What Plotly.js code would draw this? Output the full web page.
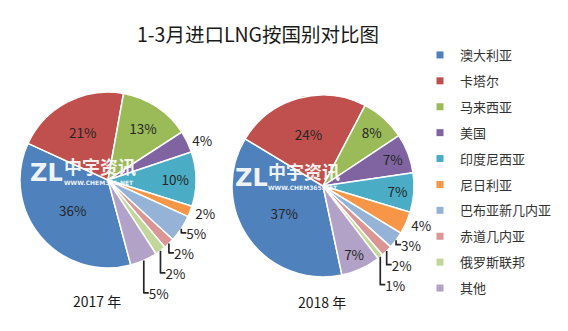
<!DOCTYPE html>
<html>
<head>
<meta charset="utf-8">
<script src="https://cdn.plot.ly/plotly-3.0.1.min.js"></script>
<style>html,body{margin:0;padding:0;background:#fff;}#chart{width:568px;height:331px;}</style>
</head>
<body>
<div id="chart"></div>
<script>
const categories = ["澳大利亚","卡塔尔","马来西亚","美国","印度尼西亚","尼日利亚","巴布亚新几内亚","赤道几内亚","俄罗斯联邦","其他"];
const values2017 = [36, 21, 13, 4, 10, 2, 5, 2, 2, 5];
const values2018 = [37, 24, 8, 7, 7, 4, 3, 2, 1, 7];
const pos2017 = ["inside","inside","inside","outside","inside","outside","outside","outside","outside","outside"];
const pos2018 = ["inside","inside","inside","inside","inside","outside","outside","outside","outside","inside"];
const colors = ["#4F81BD","#C0504D","#9BBB59","#8064A2","#4BACC6","#F79646","#95B3D7","#D99694","#C3D69B","#B3A2C7"];
const yearLabels = ["2017 年","2018 年"];
const titleText = "1-3月进口LNG按国别对比图";

const FONT = "'Noto Sans CJK SC', 'Microsoft YaHei', sans-serif";
const W = 568, H = 331;
const px = x => x / W;
const py = y => 1 - y / H;

function pie(vals, pos, dom, rot) {
  return {
    type: "pie", labels: categories, values: vals, sort: false,
    direction: "clockwise", rotation: rot,
    domain: dom, showlegend: false,
    marker: {colors: colors, line: {color: "#ffffff", width: 1.5}},
    texttemplate: "%{value}%", textposition: pos,
    insidetextorientation: "horizontal",
    insidetextfont: {family: FONT, size: 13.5, color: "#262626"},
    outsidetextfont: {family: FONT, size: 13.5, color: "#262626"},
    hoverinfo: "label+percent"
  };
}

const data = [
  pie(values2017, pos2017, {x: [px(20), px(196)], y: [py(268), py(92)]}, 165),
  pie(values2018, pos2018, {x: [px(232), px(414)], y: [py(277), py(95)]}, 168)
];
categories.forEach((c, i) => {
  data.push({type: "scatter", mode: "markers", x: [null], y: [null], name: c,
    legendgroup: "g" + i, showlegend: true, hoverinfo: "skip",
    marker: {symbol: "square", size: 7, color: colors[i]}});
});

const annotations = [
  {text: yearLabels[0], x: px(97), y: py(301)},
  {text: yearLabels[1], x: px(322), y: py(302)}
].map(a => Object.assign({xref: "paper", yref: "paper", showarrow: false,
  xanchor: "center", yanchor: "middle", font: {family: FONT, size: 14, color: "#1a1a1a"}}, a));

// watermark
[[28, 62, 172, 180], [233, 266, 177, 185]].forEach(([zx, tx, ty, wy]) => {
  annotations.push({xref: "paper", yref: "paper", showarrow: false, xanchor: "left", yanchor: "middle",
    x: px(zx), y: py(ty + 1), text: "<b>ZL</b>", font: {family: "DejaVu Sans", size: 24, color: "rgba(255,255,255,0.92)"}});
  annotations.push({xref: "paper", yref: "paper", showarrow: false, xanchor: "left", yanchor: "middle",
    x: px(tx), y: py(ty - 6), text: "<b>中宇资讯</b>", font: {family: FONT, size: 18, color: "rgba(255,255,255,0.92)"}});
  annotations.push({xref: "paper", yref: "paper", showarrow: false, xanchor: "left", yanchor: "middle",
    x: px(tx), y: py(wy + 2), text: "<b>WWW.CHEM365.NET</b>", font: {family: "DejaVu Sans", size: 6, color: "rgba(255,255,255,0.92)"}});
});

const layout = {
  width: W, height: H,
  margin: {l: 0, r: 0, t: 0, b: 0},
  paper_bgcolor: "#ffffff", plot_bgcolor: "rgba(0,0,0,0)",
  title: {text: titleText, font: {family: FONT, size: 19.5, color: "#1a1a1a"},
    x: px(258), xanchor: "center", y: py(35), yanchor: "middle", xref: "paper", yref: "container"},
  xaxis: {visible: false}, yaxis: {visible: false},
  legend: {x: px(420), y: py(40), xanchor: "left", yanchor: "top",
    font: {family: FONT, size: 13, color: "#333333"},
    traceorder: "grouped", tracegroupgap: 6, itemwidth: 30, bgcolor: "rgba(0,0,0,0)"},
  annotations: annotations,
  showlegend: true
};

Plotly.newPlot("chart", data, layout, {displayModeBar: false, staticPlot: true});
</script>
</body>
</html>
